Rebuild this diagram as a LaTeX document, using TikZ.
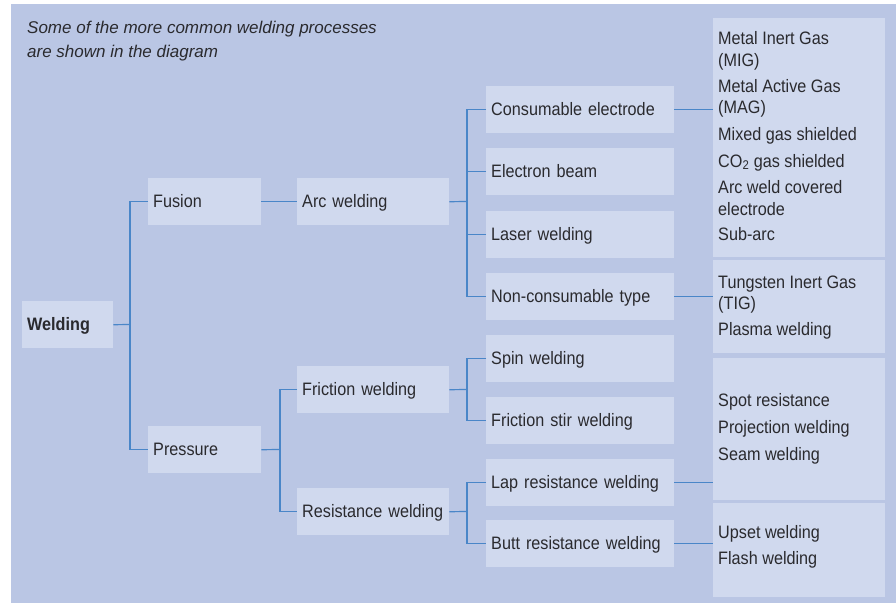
\documentclass[tikz,border=0pt]{standalone}
\usepackage{fontspec}
\setmainfont[FakeStretch=0.9]{Liberation Sans}
\newfontfamily\titlefont{Liberation Sans}
\definecolor{bgc}{HTML}{BAC6E4}
\definecolor{boxc}{HTML}{D0D9EE}
\definecolor{linec}{HTML}{4A86C8}
\definecolor{txtc}{HTML}{2A2A2E}
\begin{document}
\begin{tikzpicture}[x=1pt,y=-1pt,
  every node/.style={text=txtc},
  box/.style={fill=boxc, draw=none, anchor=north west, minimum height=47pt,
    inner xsep=5pt, inner ysep=0pt, text height=13pt, text depth=1pt, align=left,
    font=\fontsize{18}{22}\selectfont},
  rbox/.style={fill=boxc, draw=none, anchor=north west, minimum width=172pt, inner sep=0pt},
  rtxt/.style={anchor=base west, inner sep=0pt, font=\fontsize{18}{22}\selectfont},
  ttxt/.style={anchor=base west, inner sep=0pt, font=\titlefont\itshape\fontsize{17}{24}\selectfont},
  conn/.style={draw=linec, line width=1.2pt}]
\useasboundingbox (0,0) rectangle (896,603);
\fill[bgc] (11,4) rectangle (896,603);

\node[ttxt] (t1) at (27,33) {Some of the more common welding processes};
\node[ttxt] (t2) at (27,57) {are shown in the diagram};

% level 0-2
\node[box, text width=81pt, font=\bfseries\fontsize{18}{22}\selectfont] (W) at (22,301) {Welding};
\node[box, text width=103pt] (F) at (148,178) {Fusion};
\node[box, text width=103pt] (P) at (148,426) {Pressure};
\node[box, text width=142pt] (A) at (297,178) {Arc welding};
\node[box, text width=142pt] (FW) at (297,366) {Friction welding};
\node[box, text width=142pt] (RW) at (297,488) {Resistance welding};
% level 3
\node[box, text width=178pt] (CE) at (486,86) {Consumable electrode};
\node[box, text width=178pt] (EB) at (486,148) {Electron beam};
\node[box, text width=178pt] (LW) at (486,211) {Laser welding};
\node[box, text width=178pt] (NC) at (486,273) {Non-consumable type};
\node[box, text width=178pt] (SW) at (486,335) {Spin welding};
\node[box, text width=178pt] (FS) at (486,397) {Friction stir welding};
\node[box, text width=178pt] (LR) at (486,459) {Lap resistance welding};
\node[box, text width=178pt] (BR) at (486,520) {Butt resistance welding};
% right boxes
\node[rbox, minimum height=239pt] (R1) at (713,18) {};
\node[rbox, minimum height=93pt] (R2) at (713,260) {};
\node[rbox, minimum height=142pt] (R3) at (713,358) {};
\node[rbox, minimum height=94pt] (R4) at (713,503) {};

\node[rtxt] (r1a) at (718,44) {Metal Inert Gas};
\node[rtxt] (r1b) at (718,66) {(MIG)};
\node[rtxt] (r1c) at (718,92) {Metal Active Gas};
\node[rtxt] (r1d) at (718,113) {(MAG)};
\node[rtxt] (r1e) at (718,140) {Mixed gas shielded};
\node[rtxt] (r1f) at (718,167) {CO\textsubscript{2} gas shielded};
\node[rtxt] (r1g) at (718,193) {Arc weld covered};
\node[rtxt] (r1h) at (718,215) {electrode};
\node[rtxt] (r1i) at (718,240) {Sub-arc};
\node[rtxt] (r2a) at (718,288) {Tungsten Inert Gas};
\node[rtxt] (r2b) at (718,309) {(TIG)};
\node[rtxt] (r2c) at (718,335) {Plasma welding};
\node[rtxt] (r3a) at (718,406) {Spot resistance};
\node[rtxt] (r3b) at (718,433) {Projection welding};
\node[rtxt] (r3c) at (718,460) {Seam welding};
\node[rtxt] (r4a) at (718,538) {Upset welding};
\node[rtxt] (r4b) at (718,564) {Flash welding};

% junctions
\coordinate (j1) at (130,324.5);
\coordinate (j2) at (280,449.5);
\coordinate (j3) at (467,201.5);
\coordinate (j4) at (467,389.5);
\coordinate (j5) at (467,511.5);

\draw[conn] (W.east) -- (j1);
\draw[conn] (F.west) -| (j1) |- (P.west);
\draw[conn] (F.east) -- (A.west);
\draw[conn] (P.east) -- (j2);
\draw[conn] (FW.west) -| (j2) |- (RW.west);
\draw[conn] (A.east) -- (j3);
\draw[conn] (CE.west) -| (j3) |- (NC.west);
\draw[conn] (EB.west) -- (EB.west -| j3);
\draw[conn] (LW.west) -- (LW.west -| j3);
\draw[conn] (FW.east) -- (j4);
\draw[conn] (SW.west) -| (j4) |- (FS.west);
\draw[conn] (RW.east) -- (j5);
\draw[conn] (LR.west) -| (j5) |- (BR.west);
\draw[conn] (CE.east) -- (CE.east -| R1.west);
\draw[conn] (NC.east) -- (NC.east -| R2.west);
\draw[conn] (LR.east) -- (LR.east -| R3.west);
\draw[conn] (BR.east) -- (BR.east -| R4.west);
\end{tikzpicture}
\end{document}
